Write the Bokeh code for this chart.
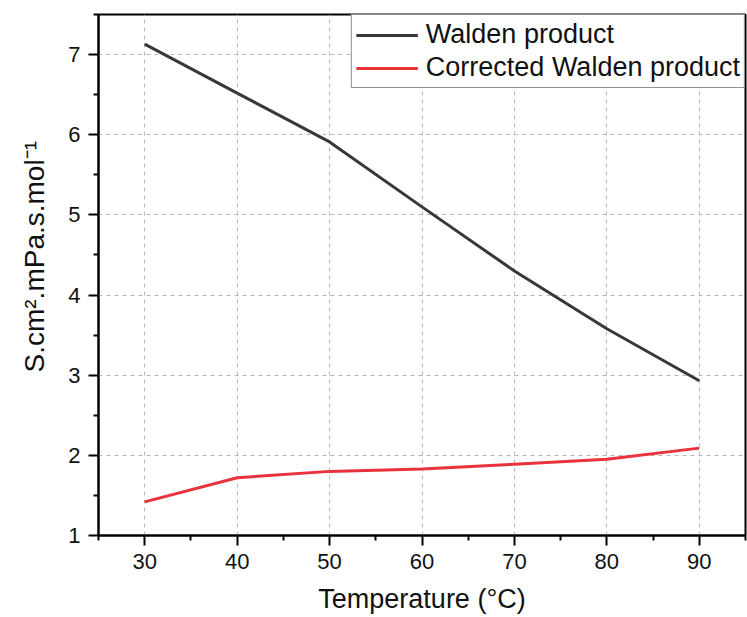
from bokeh.plotting import figure
from bokeh.models import Range1d, FixedTicker, Legend, LegendItem, Title
from bokeh.embed import file_html
from bokeh.resources import INLINE

temps = [30, 40, 50, 60, 70, 80, 90]
walden = [7.13, 6.52, 5.91, 5.10, 4.30, 3.58, 2.93]
corrected = [1.42, 1.72, 1.80, 1.83, 1.89, 1.95, 2.09]
x_ticks = [30, 40, 50, 60, 70, 80, 90]
y_ticks = [1, 2, 3, 4, 5, 6, 7]
x_title = "Temperature (°C)"
y_title = "S.cm².mPa.s.mol⁻¹"

FONT = "Liberation Sans"

p = figure(width=747, height=617, output_backend="svg", toolbar_location=None,
           x_range=Range1d(25, 95), y_range=Range1d(1, 7.5),
           min_border_left=98, min_border_right=2, min_border_top=14, min_border_bottom=82)
p.background_fill_color = "white"
p.border_fill_color = "white"
p.outline_line_color = "black"
p.outline_line_width = 2
p.outline_line_alpha = 1.0

r1 = p.line(temps, walden, line_color="#383838", line_width=3)
r2 = p.line(temps, corrected, line_color="#e8323c", line_width=3)

for ax in (p.xaxis[0], p.yaxis[0]):
    ax.axis_line_width = 2
    ax.axis_line_color = "black"
    ax.major_tick_line_width = 2
    ax.minor_tick_line_width = 2
    ax.major_tick_out = 10
    ax.major_tick_in = 0
    ax.minor_tick_out = 5
    ax.minor_tick_in = 0
    ax.major_label_text_font = FONT
    ax.major_label_text_font_size = "22px"
    ax.major_label_text_color = "#111111"
    ax.major_label_standoff = 8
    ax.axis_label_text_font = FONT
    ax.axis_label_text_font_style = "normal"
    ax.axis_label_text_color = "#111111"

p.xaxis[0].ticker = FixedTicker(ticks=x_ticks, minor_ticks=[25, 35, 45, 55, 65, 75, 85, 95])
p.yaxis[0].ticker = FixedTicker(ticks=y_ticks, minor_ticks=[1.5, 2.5, 3.5, 4.5, 5.5, 6.5, 7.5])
p.xaxis[0].axis_label = x_title
p.xaxis[0].axis_label_text_font_size = "27px"
p.xaxis[0].axis_label_standoff = 12

p.add_layout(Title(text=y_title, align="left", offset=163, standoff=31,
                   text_font=FONT, text_font_size="28px", text_font_style="normal",
                   text_color="#111111"), "left")

for g in (p.xgrid[0], p.ygrid[0]):
    g.grid_line_color = "#b8b8b8"
    g.grid_line_dash = "4 4"
    g.grid_line_width = 1

legend = Legend(items=[LegendItem(label="Walden product", renderers=[r1]),
                       LegendItem(label="Corrected Walden product", renderers=[r2])],
                location="top_right", margin=0, padding=4, spacing=2,
                glyph_width=62, glyph_height=30, label_standoff=8,
                label_text_font=FONT, label_text_font_size="27px",
                label_text_color="#111111",
                border_line_color="#222222", border_line_width=1,
                background_fill_color="white", background_fill_alpha=1.0)
p.add_layout(legend)

open("out.html", "w").write(file_html(p, INLINE))
